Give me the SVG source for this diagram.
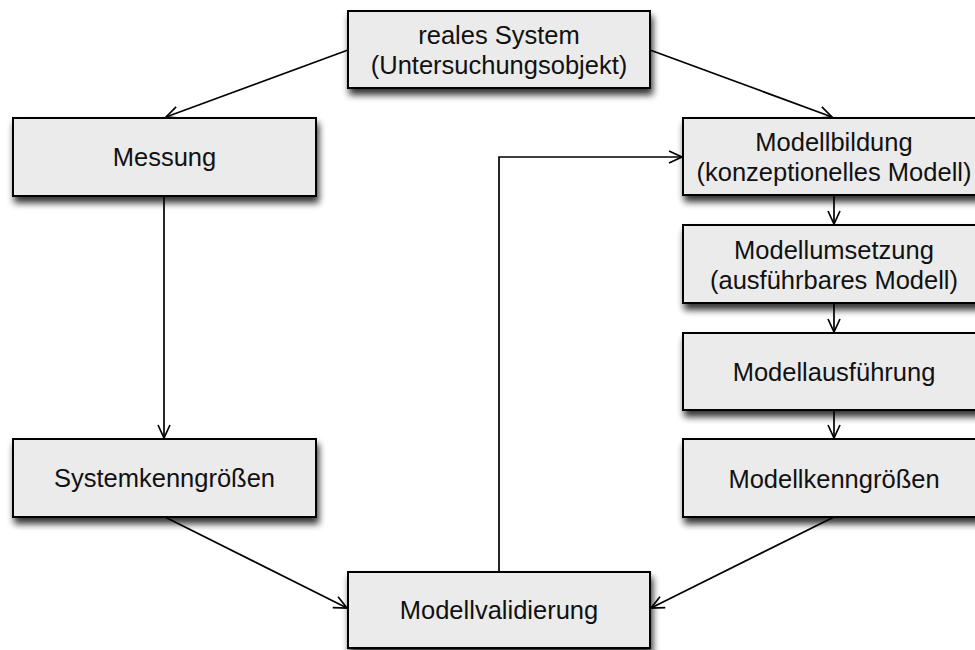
<svg xmlns="http://www.w3.org/2000/svg" width="975" height="650" viewBox="0 0 975 650">
<style>
.box{fill:#ebebeb;stroke:#000;stroke-width:2;filter:url(#sh)}
.t{font-family:"Liberation Sans",Arial,sans-serif;font-size:25.5px;fill:#111;text-anchor:middle}
.c{fill:none;stroke:#000;stroke-width:1.7;marker-end:url(#ah)}
</style>
<defs>
<filter id="sh" x="-10%" y="-20%" width="130%" height="160%">
<feGaussianBlur in="SourceAlpha" stdDeviation="3.5"/>
<feOffset dx="2" dy="6" result="b"/>
<feComponentTransfer><feFuncA type="linear" slope="0.8"/></feComponentTransfer>
<feMerge><feMergeNode/><feMergeNode in="SourceGraphic"/></feMerge>
</filter>
<marker id="ah" markerUnits="userSpaceOnUse" markerWidth="18" markerHeight="16" refX="14" refY="7" orient="auto">
<path d="M1,1 L14,7 L1,13" fill="none" stroke="#000" stroke-width="1.7"/>
</marker>
</defs>
<g id="connectors">
<line class="c" x1="348" y1="50" x2="166" y2="117"/>
<line class="c" x1="650" y1="50" x2="832" y2="117"/>
<line class="c" x1="164" y1="196" x2="164" y2="438"/>
<line class="c" x1="165" y1="517" x2="347" y2="608"/>
<line class="c" x1="834" y1="517" x2="651" y2="608"/>
<polyline class="c" points="499,572 499,157 682,157"/>
<line class="c" x1="834" y1="195" x2="834" y2="224"/>
<line class="c" x1="834" y1="303" x2="834" y2="332"/>
<line class="c" x1="834" y1="410" x2="834" y2="438"/>
</g>
<g id="n-real">
<rect class="box" x="348" y="11" width="302" height="77"/>
<text class="t" x="499" y="44">reales System</text>
<text class="t" x="499" y="74">(Untersuchungsobjekt)</text>
</g>
<g id="n-messung">
<rect class="box" x="13" y="118" width="303" height="78"/>
<text class="t" x="164.5" y="166">Messung</text>
</g>
<g id="n-systemkenn">
<rect class="box" x="13" y="439" width="303" height="78"/>
<text class="t" x="164.5" y="487">Systemkenngrößen</text>
</g>
<g id="n-bildung">
<rect class="box" x="683" y="118" width="302" height="77"/>
<text class="t" x="834" y="151">Modellbildung</text>
<text class="t" x="834" y="181">(konzeptionelles Modell)</text>
</g>
<g id="n-umsetzung">
<rect class="box" x="683" y="225" width="302" height="78"/>
<text class="t" x="834" y="258.5">Modellumsetzung</text>
<text class="t" x="834" y="288.5">(ausführbares Modell)</text>
</g>
<g id="n-ausfuehrung">
<rect class="box" x="683" y="333" width="302" height="77"/>
<text class="t" x="834" y="380.5">Modellausführung</text>
</g>
<g id="n-modellkenn">
<rect class="box" x="683" y="439" width="302" height="78"/>
<text class="t" x="834" y="487.5">Modellkenngrößen</text>
</g>
<g id="n-validierung">
<rect class="box" x="348" y="572" width="302" height="76"/>
<text class="t" x="499" y="619">Modellvalidierung</text>
</g>
</svg>
